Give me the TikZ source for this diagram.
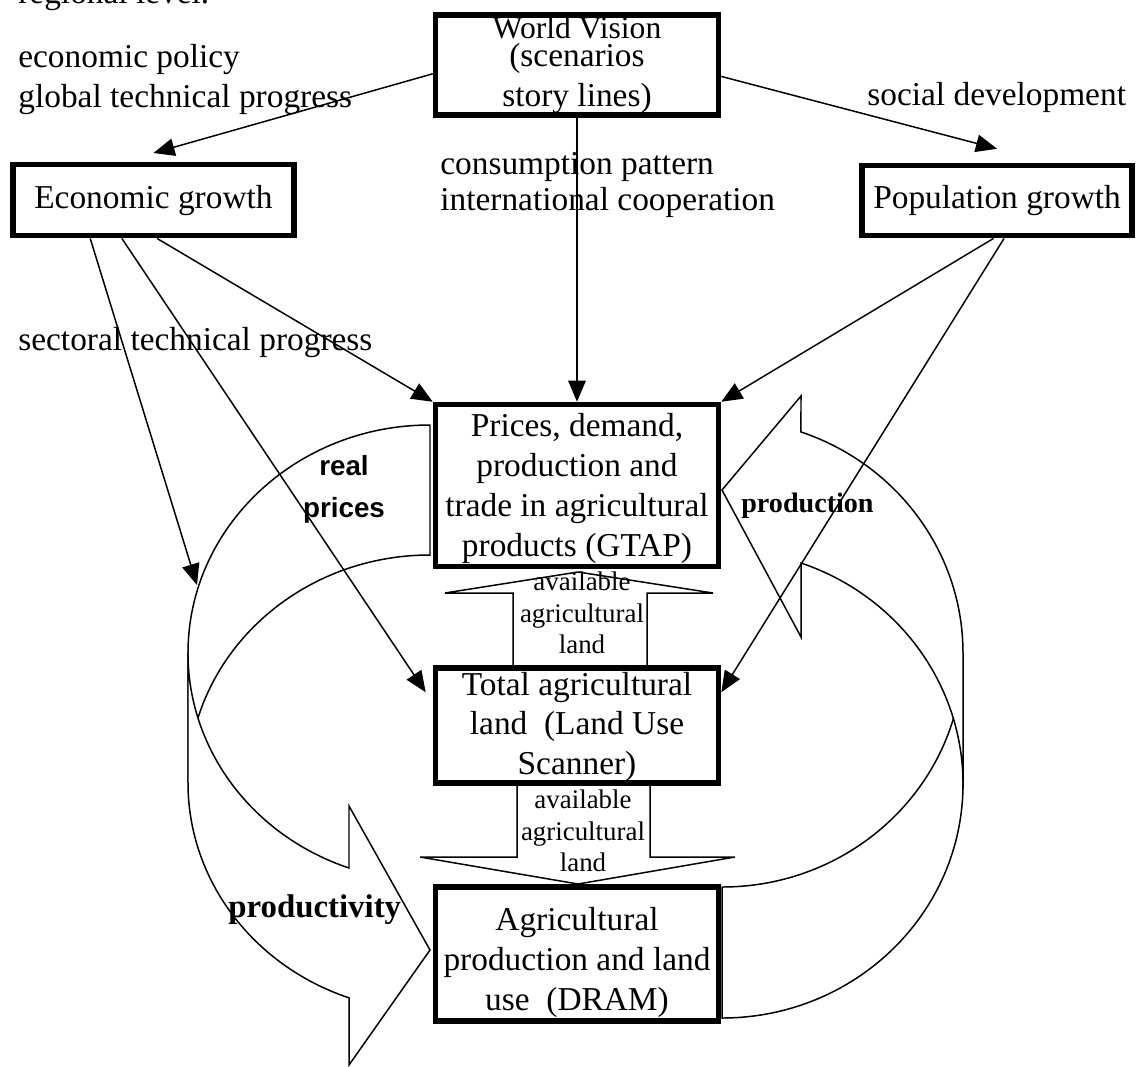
\documentclass[tikz,border=0pt]{standalone}
\usepackage{fontspec}
\setmainfont{Liberation Serif}
\setsansfont{Liberation Sans}
\usetikzlibrary{arrows.meta, positioning, calc}

\begin{document}
\begin{tikzpicture}[
    x=0.02cm, y=-0.02cm,
    node distance=1.9cm and 2.7cm,
    kotak/.style={draw, line width=3.2pt, fill=white, align=center, inner xsep=2pt, inner ysep=0pt,
                  minimum width=5.66cm, font=\fontsize{19}{22.7}\selectfont},
    teks/.style={anchor=base west, inner sep=0pt, font=\fontsize{19}{22.7}\selectfont},
    kecil/.style={align=center, inner sep=0pt, font=\fontsize{15.3}{17.9}\selectfont},
    tebal/.style={align=center, inner sep=0pt, font=\bfseries\fontsize{18.7}{22}\selectfont},
    panah/.style={-{Triangle[length=12pt, width=10pt]}, line width=0.85pt},
    pita/.style={draw, line width=0.85pt, fill=white, line join=miter}
  ]
  \useasboundingbox (0,0) rectangle (1137,1066);

  % curved block arrows, back part first
  \draw[pita] (430,425) arc[start angle=270, end angle=180, x radius=242, y radius=228]
    -- (188,783) arc[start angle=180, end angle=270, x radius=242, y radius=228] -- cycle;
  \draw[pita] (722,1018) arc[start angle=90, end angle=0, x radius=241, y radius=234]
    -- (963,653) arc[start angle=0, end angle=90, x radius=241, y radius=234] -- cycle;
  % front part with the head
  \draw[pita] (188,653) -- (188,783) arc[start angle=180, end angle=109.55, x radius=242, y radius=228]
    -- (349,1065) -- (430,950) -- (349,806) -- (349,868)
    arc[start angle=109.55, end angle=180, x radius=242, y radius=228] -- cycle;
  \draw[pita] (963,784) -- (963,653) arc[start angle=0, end angle=-70.87, x radius=241, y radius=234]
    -- (801,396) -- (722,490) -- (801,637) -- (801,563)
    arc[start angle=-70.87, end angle=0, x radius=241, y radius=234] -- cycle;

  % straight block arrows
  \draw[pita] (513,668) -- (513,593) -- (445,593) -- (578,572) -- (713,593) -- (647,593) -- (647,668);
  \draw[pita] (517,785) -- (517,857) -- (420,857) -- (578,884) -- (735,857) -- (650,857) -- (650,785);

  % boxes
  \node[kotak, minimum height=2.0cm] (wv) at (577,65)
    {\fontsize{18}{22.7}\selectfont World Vision\\[-6.3pt](scenarios\\story lines)};
  \node[kotak, minimum height=3.24cm, below=5.68cm of wv] (gtap)
    {\rule{0pt}{16.5pt}Prices, demand,\\production and\\trade in agricultural\\products (GTAP)};
  \node[kotak, minimum height=2.3cm, below=1.92cm of gtap] (lus)
    {\rule{0pt}{14.7pt}Total agricultural\\land~ (Land Use\\Scanner)};
  \node[kotak, minimum height=2.68cm, below=1.96cm of lus] (dram)
    {\rule{0pt}{23.5pt}Agricultural\\production and land\\use~ (DRAM)};
  \node[kotak, minimum width=5.62cm, minimum height=1.42cm, below left=0.88cm and 2.72cm of wv] (eg)
    {Economic growth};
  \node[kotak, minimum width=5.4cm, minimum height=1.4cm, below right=0.9cm and 2.76cm of wv] (pg)
    {Population growth};

  % connectors
  \coordinate (rp) at (197,585);
  \draw[panah] ([yshift=-5pt]wv.west) -- ([yshift=5pt]eg.north);
  \draw[panah] ([yshift=-6.5pt]wv.east) -- ([yshift=8pt]pg.north);
  \draw[panah] (wv.south) -- (gtap.north);
  \draw[panah] ([xshift=2pt]eg.south) -- (gtap.north west);
  \draw[panah] ([xshift=-18pt]eg.south) -- ([xshift=-4pt, yshift=19pt]lus.west);
  \draw[panah] ([xshift=-36pt]eg.south) -- (rp);
  \draw[panah] ([xshift=-2pt]pg.south) -- (gtap.north east);
  \draw[panah] ([xshift=4pt]pg.south) -- ([yshift=19pt]lus.east);

  % labels
  \node[teks] (lvl) at (18,3) {regional level.};
  \node[teks] (ep) at (18,67) {economic policy};
  \node[teks] (gtp) at (18,107) {global technical progress};
  \node[teks] (sd) at (867,105) {social development};
  \node[teks] (cp) at (440,174) {consumption pattern};
  \node[teks] (ic) at (440,210) {international cooperation};
  \node[teks] (stp) at (18,350) {sectoral technical progress};
  \node[align=center, inner sep=0pt, font=\sffamily\bfseries\fontsize{15.8}{23.8}\selectfont] (rlp)
    at (344,489) {real\\prices};
  \node[tebal, anchor=base west, font=\bfseries\fontsize{16}{19}\selectfont] (prod) at (741,512) {production};
  \node[tebal, anchor=base west] (prdv) at (228,917) {productivity};
  \node[kecil] (al1) at (582,613) {available\\agricultural\\land};
  \node[kecil] (al2) at (583,831) {available\\agricultural\\land};
\end{tikzpicture}
\end{document}
